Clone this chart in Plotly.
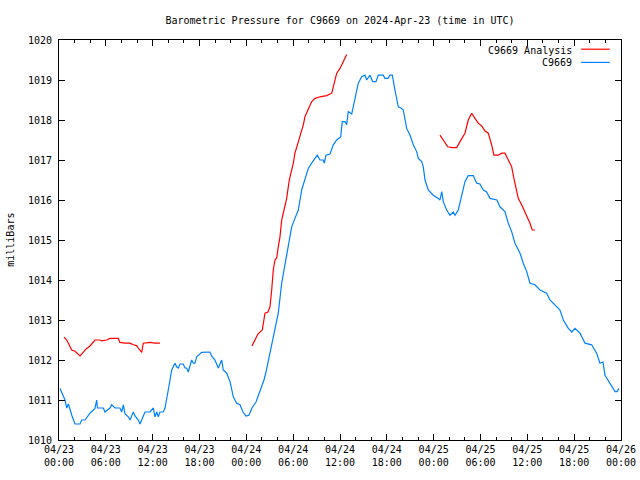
import plotly.graph_objects as go

# hours since 2024-04-23 00:00 UTC
blue_h = [0.13, 0.5, 0.77, 0.99, 1.2, 1.67, 2.05, 2.69, 2.91, 3.33, 3.97, 4.61, 4.83, 4.93, 5.68, 5.89, 6.2, 6.53, 6.75, 6.95,
          7.17, 7.81, 8.03, 8.24, 8.46, 8.88, 9.10, 9.52, 9.74, 10.16, 10.38, 10.59, 11.02, 11.66, 12.08, 12.30, 12.52,
          12.72, 12.94, 13.36, 13.58, 14.0, 14.44, 14.86, 15.07, 15.28, 15.50, 15.92, 16.14, 16.35, 16.56, 17.0, 17.2,
          17.42, 17.64, 18.28, 19.34, 19.55, 19.98, 20.41, 20.84, 21.05, 21.48, 21.91, 22.33, 22.76, 23.19, 23.57, 23.96,
          24.34, 24.72, 25.24, 25.75, 26.26, 26.52, 27.03, 27.58, 28.09, 28.53, 28.95, 29.38, 29.81, 30.23, 30.66, 31.09,
          31.51, 31.94, 32.37, 32.80, 33.09, 33.44, 33.86, 33.99, 34.20, 34.72, 35.14, 35.58, 36.09, 36.29, 36.64, 36.86,
          37.06, 37.50, 37.70, 37.92, 38.34, 38.78, 39.20, 39.42, 39.84, 40.19, 40.61, 40.90, 41.54, 41.76, 42.15, 42.40,
          42.70, 43.04, 43.47, 43.81, 44.11, 44.54, 44.97, 45.39, 45.82, 46.03, 46.47, 46.67, 46.89, 47.31, 47.95, 48.59,
          48.81, 49.03, 49.23, 49.66, 50.09, 50.51, 50.73, 51.15, 51.59, 52.01, 52.43, 53.07, 53.51, 53.93, 54.36, 54.79,
          55.22, 55.86, 56.10, 56.49, 57.13, 57.56, 57.99, 58.42, 59.06, 59.48, 59.92, 60.34, 60.72, 60.98, 61.62, 62.48,
          62.90, 63.76, 64.18, 64.61, 65.25, 65.69, 66.11, 66.75, 67.39, 68.24, 68.88, 69.31, 69.69, 69.95, 70.59, 71.24,
          71.49, 71.74]
blue_v = [1011.29, 1011.1, 1011.0, 1010.8, 1010.9, 1010.6, 1010.4, 1010.4, 1010.5, 1010.5, 1010.67, 1010.79, 1011.0,
          1010.8, 1010.8, 1010.7, 1010.75, 1010.8, 1010.88, 1010.85, 1010.8, 1010.8, 1010.7, 1010.88, 1010.65, 1010.58,
          1010.5, 1010.7, 1010.6, 1010.5, 1010.4, 1010.5, 1010.7, 1010.7, 1010.8, 1010.58, 1010.7, 1010.58, 1010.7,
          1010.7, 1010.8, 1011.25, 1011.75, 1011.92, 1011.83, 1011.8, 1011.9, 1011.9, 1011.8, 1011.8, 1011.7, 1012.0,
          1011.92, 1011.92, 1012.08, 1012.19, 1012.2, 1012.1, 1012.0, 1011.8, 1012.0, 1011.75, 1011.67, 1011.46,
          1011.08, 1010.92, 1010.88, 1010.7, 1010.6, 1010.62, 1010.8, 1010.95, 1011.2, 1011.5, 1011.7, 1012.2, 1012.75,
          1013.17, 1013.92, 1014.42, 1014.92, 1015.33, 1015.54, 1015.75, 1016.25, 1016.5, 1016.79, 1016.92, 1017.04,
          1017.12, 1017.0, 1017.0, 1016.92, 1017.12, 1017.15, 1017.38, 1017.5, 1017.58, 1017.96, 1017.96, 1017.88,
          1018.21, 1018.15, 1018.33, 1018.5, 1018.92, 1019.08, 1019.12, 1019.0, 1019.12, 1018.96, 1018.96, 1019.12,
          1019.12, 1019.04, 1019.04, 1019.12, 1019.12, 1018.75, 1018.33, 1018.3, 1018.25, 1017.79, 1017.62, 1017.38,
          1017.21, 1017.04, 1016.96, 1016.83, 1016.5, 1016.25, 1016.12, 1016.04, 1016.0, 1016.21, 1015.96, 1015.75,
          1015.62, 1015.7, 1015.62, 1015.75, 1016.08, 1016.46, 1016.61, 1016.61, 1016.42, 1016.4, 1016.25, 1016.2,
          1016.04, 1016.0, 1016.0, 1015.83, 1015.71, 1015.42, 1015.21, 1014.92, 1014.67, 1014.42, 1014.21, 1013.92,
          1013.9, 1013.88, 1013.75, 1013.67, 1013.5, 1013.33, 1013.25, 1013.0, 1012.79, 1012.7, 1012.79, 1012.67,
          1012.42, 1012.38, 1012.17, 1011.92, 1011.95, 1011.62, 1011.42, 1011.21, 1011.21, 1011.29]

red_h = [0.64, 0.99, 1.63, 2.05, 2.69, 3.11, 3.55, 3.97, 4.61, 5.25, 5.47, 6.11, 6.53, 7.60, 7.81, 8.46, 9.10, 9.52,
         9.95, 10.16, 10.59, 10.80, 11.66, 12.30, 12.94,
         None,
         24.72, 25.11, 25.49, 26.04, 26.39, 26.77, 27.03, 27.25, 27.45, 27.67, 27.89, 28.09, 28.31, 28.53, 28.73, 29.17,
         29.50, 29.81, 30.02, 30.23, 30.66, 30.87, 31.30, 31.51, 31.94, 32.37, 32.80, 33.44, 34.29, 34.94, 35.14, 35.58,
         36.0, 36.42, 36.86,
         None,
         48.81, 49.23, 49.80, 50.35, 50.95, 51.37, 51.79, 52.01, 52.43, 52.87, 53.29, 53.71, 54.15, 54.57, 54.99, 55.43,
         55.72, 56.27, 56.71, 57.13, 57.56, 57.99, 58.32, 58.63, 58.84, 59.27, 59.92, 60.34, 60.63, 60.98]
red_v = [1012.57, 1012.5, 1012.25, 1012.22, 1012.1, 1012.2, 1012.29, 1012.35, 1012.5, 1012.5, 1012.48, 1012.5, 1012.54,
         1012.54, 1012.44, 1012.42, 1012.42, 1012.38, 1012.36, 1012.3, 1012.19, 1012.42, 1012.44, 1012.42, 1012.42,
         None,
         1012.35, 1012.5, 1012.65, 1012.75, 1013.17, 1013.2, 1013.33, 1013.75, 1014.25, 1014.5, 1014.55, 1014.83,
         1015.08, 1015.5, 1015.67, 1016.04, 1016.5, 1016.71, 1016.92, 1017.17, 1017.46, 1017.58, 1017.88, 1018.08,
         1018.25, 1018.46, 1018.54, 1018.58, 1018.61, 1018.67, 1018.83, 1019.17, 1019.29, 1019.46, 1019.64,
         None,
         1017.62, 1017.5, 1017.33, 1017.31, 1017.31, 1017.46, 1017.61, 1017.67, 1018.0, 1018.17, 1018.04, 1017.92,
         1017.85, 1017.73, 1017.67, 1017.38, 1017.12, 1017.12, 1017.17, 1017.17, 1017.0, 1016.83, 1016.5, 1016.25,
         1016.04, 1015.88, 1015.62, 1015.42, 1015.25, 1015.25]

tick_hours = [0, 6, 12, 18, 24, 30, 36, 42, 48, 54, 60, 66, 72]
tick_text = ["04/23<br>00:00", "04/23<br>06:00", "04/23<br>12:00", "04/23<br>18:00",
             "04/24<br>00:00", "04/24<br>06:00", "04/24<br>12:00", "04/24<br>18:00",
             "04/25<br>00:00", "04/25<br>06:00", "04/25<br>12:00", "04/25<br>18:00",
             "04/26<br>00:00"]
y_ticks = list(range(1010, 1021))

RED = "#ff0000"
BLUE = "#0080ff"
FONT = "DejaVu Sans Mono"

fig = go.Figure()
fig.add_trace(go.Scatter(x=red_h, y=red_v, mode="lines", name="C9669 Analysis",
                         line=dict(color=RED, width=1.2), connectgaps=False))
fig.add_trace(go.Scatter(x=blue_h, y=blue_v, mode="lines", name="C9669",
                         line=dict(color=BLUE, width=1.2)))

axis_common = dict(showline=True, linecolor="black", linewidth=1, mirror="allticks",
                   ticks="inside", tickcolor="black", ticklen=6, showgrid=False, zeroline=False,
                   tickfont=dict(family=FONT, size=10, color="black"))

fig.update_xaxes(range=[0, 72], tickmode="array", tickvals=tick_hours, ticktext=tick_text,
                 minor=dict(ticks="inside", dtick=2, tick0=0, ticklen=3, tickcolor="black", showgrid=False),
                 **axis_common)
fig.update_yaxes(range=[1010, 1020], tickmode="array", tickvals=y_ticks,
                 ticktext=[str(v) for v in y_ticks], ticklabelstandoff=4, **axis_common)

fig.add_annotation(text="milliBars", xref="paper", yref="paper", x=-0.101, y=0.5,
                   textangle=-90, showarrow=False, font=dict(family=FONT, size=10, color="black"))

# legend (key samples drawn right of the labels, as in the reference)
fig.add_annotation(text="C9669 Analysis", xref="paper", yref="paper", x=0.916, y=0.975,
                   xanchor="right", yanchor="middle", showarrow=False,
                   font=dict(family=FONT, size=10, color="black"))
fig.add_annotation(text="C9669", xref="paper", yref="paper", x=0.916, y=0.943,
                   xanchor="right", yanchor="middle", showarrow=False,
                   font=dict(family=FONT, size=10, color="black"))
fig.add_shape(type="line", xref="paper", yref="paper", x0=0.929, x1=0.980, y0=0.977, y1=0.977,
              line=dict(color=RED, width=1.2))
fig.add_shape(type="line", xref="paper", yref="paper", x0=0.929, x1=0.980, y0=0.944, y1=0.944,
              line=dict(color=BLUE, width=1.2))

fig.update_layout(
    width=640, height=480,
    margin=dict(l=59, r=19, t=40, b=40, autoexpand=False),
    paper_bgcolor="white", plot_bgcolor="white",
    showlegend=False,
    title=dict(text="Barometric Pressure for C9669 on 2024-Apr-23 (time in UTC)",
               x=0.5, xref="paper", xanchor="center", y=1 - 20 / 480, yanchor="middle",
               font=dict(family=FONT, size=10, color="black")),
    font=dict(family=FONT, size=10, color="black"),
)

fig.write_html("out.html", config={"displayModeBar": False},
               post_script="document.body.style.margin='0';document.body.style.overflow='hidden';")
